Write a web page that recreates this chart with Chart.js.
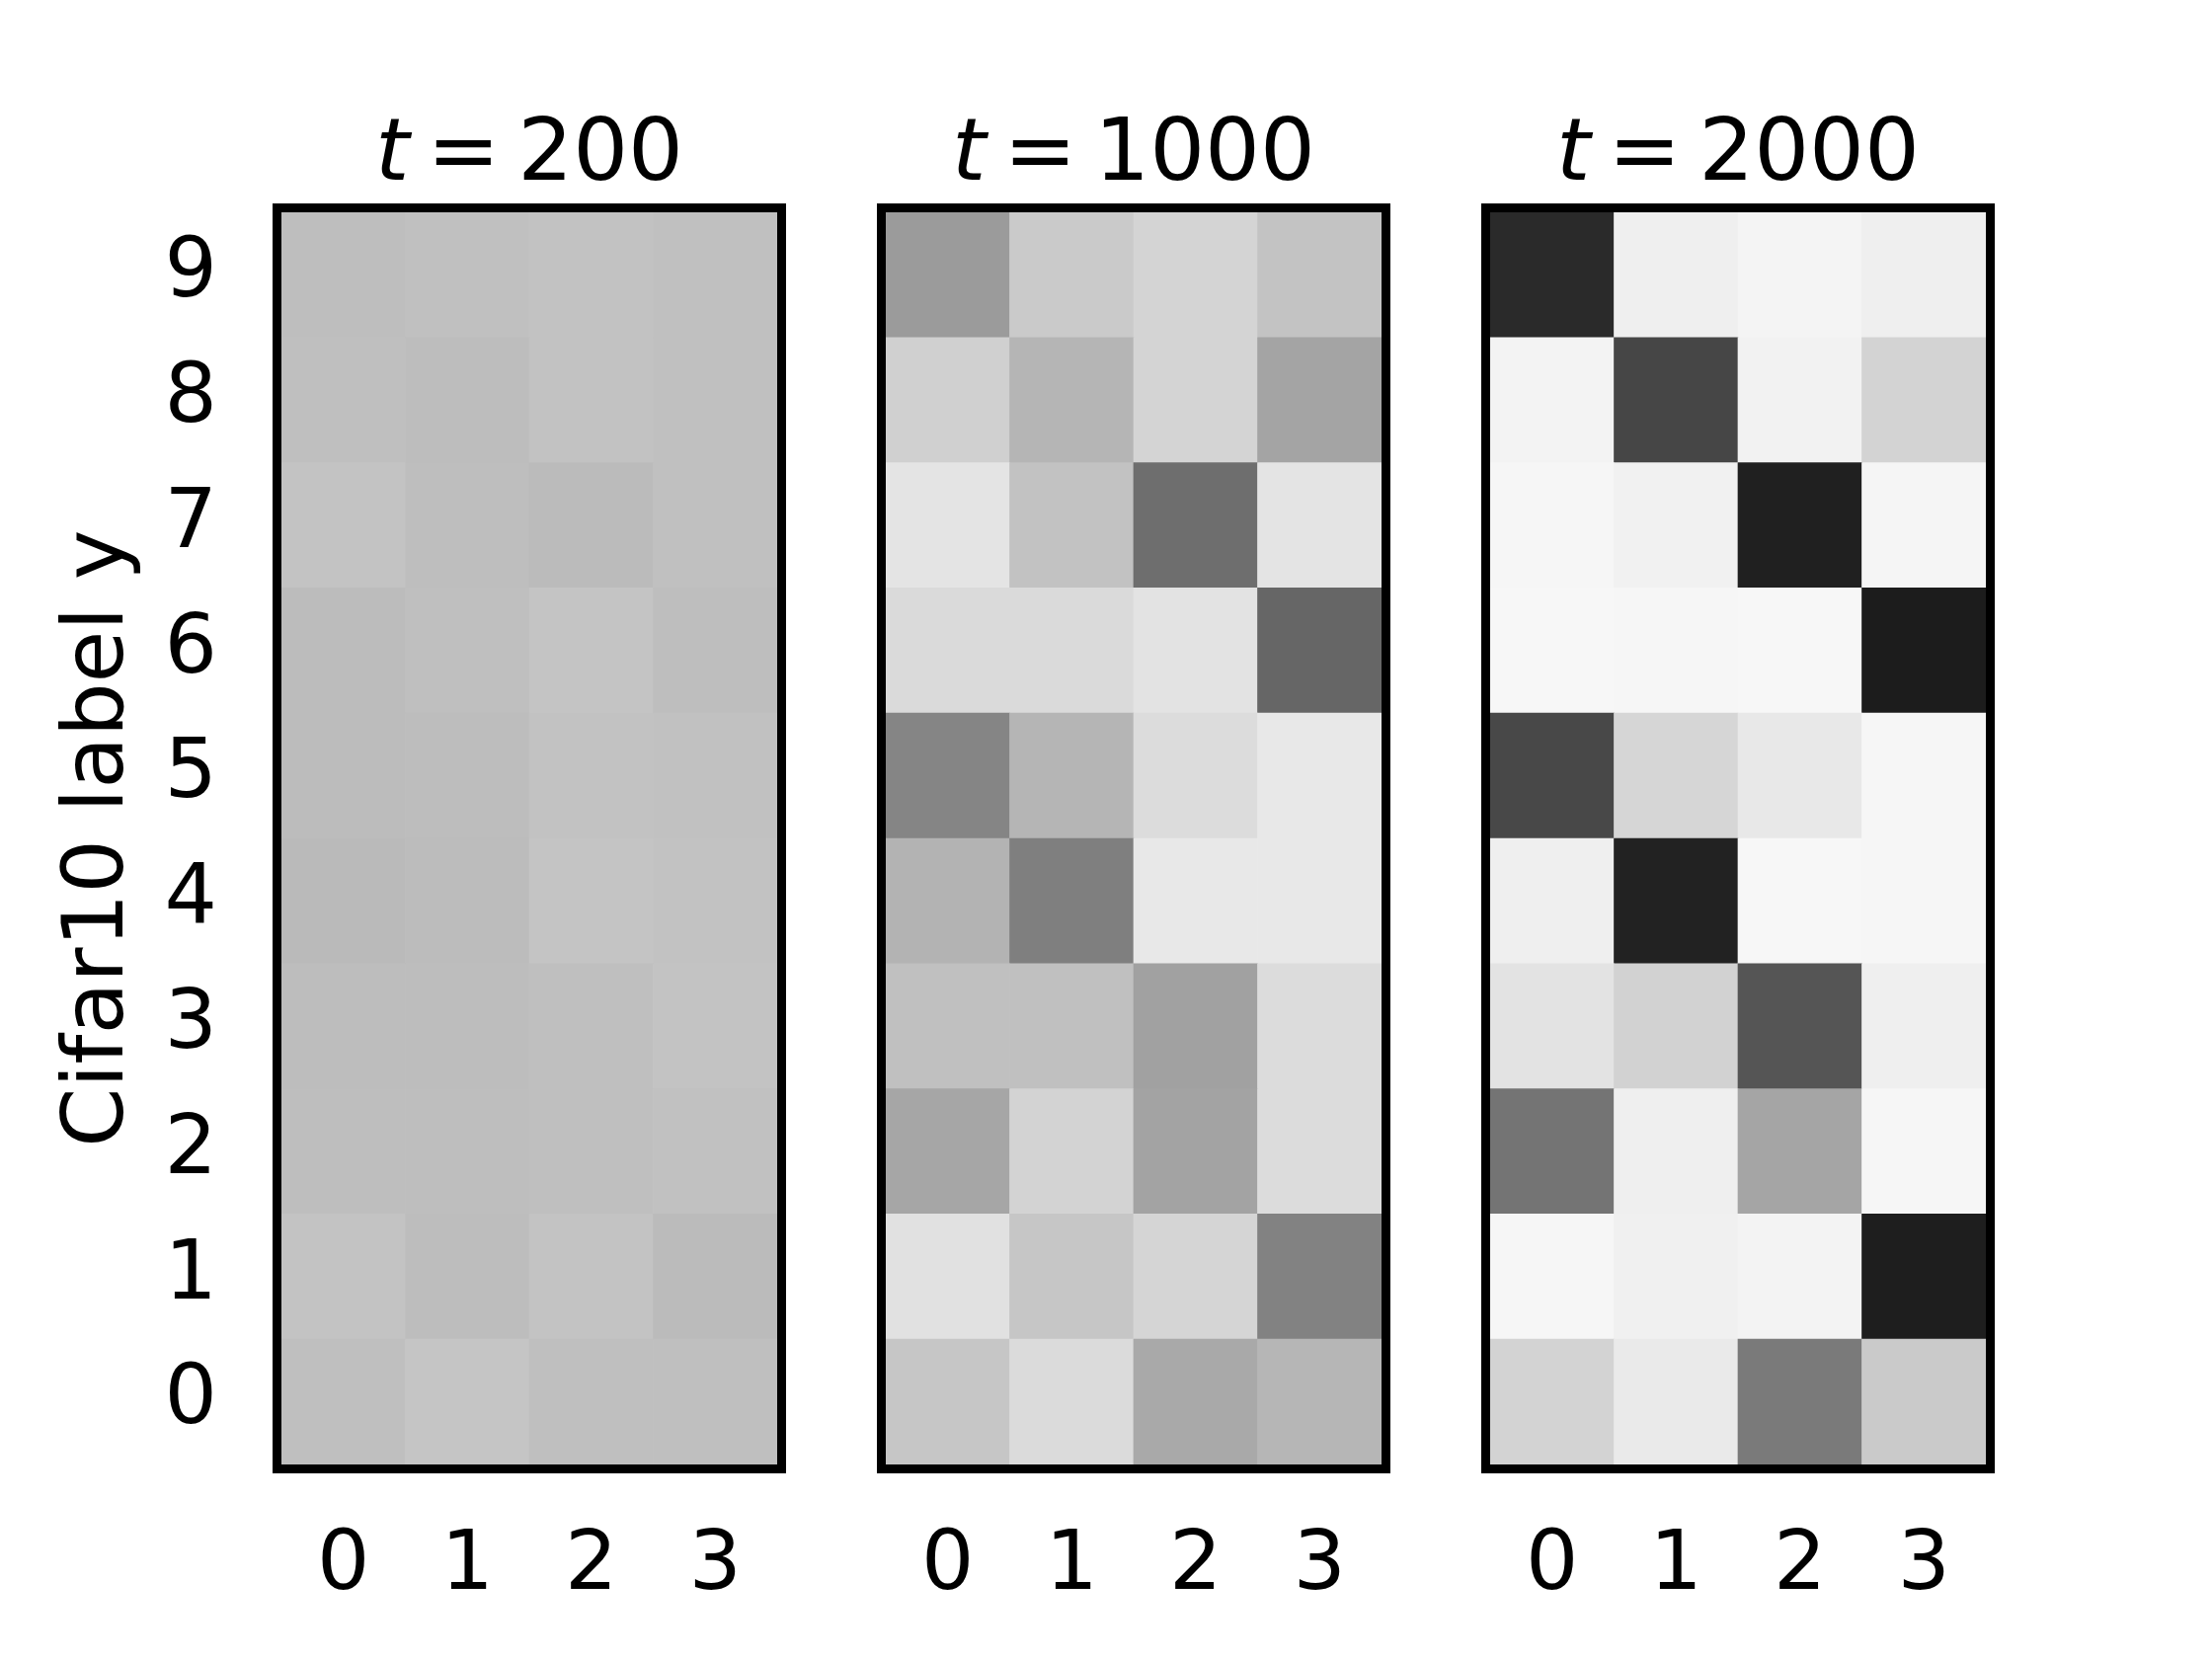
<!DOCTYPE html>
<html>
<head>
<meta charset="utf-8">
<script src="https://cdn.jsdelivr.net/npm/chart.js@4.4.1/dist/chart.umd.min.js"></script>
<style>
  html, body { margin: 0; padding: 0; background: #fff; }
  body { width: 2240px; height: 1680px; position: relative; overflow: hidden; }
  .panel { position: absolute; top: 0; width: 830px; height: 1680px; }
</style>
</head>
<body>
<div class="panel" style="left:0px"><canvas id="c200" width="830" height="1680"></canvas></div>
<div class="panel" style="left:612px"><canvas id="c1000" width="830" height="1680"></canvas></div>
<div class="panel" style="left:1224px"><canvas id="c2000" width="830" height="1680"></canvas></div>
<script>
// x categories and y labels
const columns = ['0', '1', '2', '3'];
const labelsY = [0, 1, 2, 3, 4, 5, 6, 7, 8, 9];
const steps = [200, 1000, 2000];

// cell darkness (0 = white, 1 = black), one row per label y = 0 .. 9, columns 0..3
const cellsT200 = [
    [0.251, 0.227, 0.251, 0.251],
    [0.235, 0.259, 0.235, 0.267],
    [0.255, 0.255, 0.251, 0.243],
    [0.259, 0.259, 0.251, 0.235],
    [0.271, 0.263, 0.231, 0.239],
    [0.263, 0.259, 0.239, 0.243],
    [0.263, 0.251, 0.231, 0.255],
    [0.235, 0.255, 0.267, 0.247],
    [0.251, 0.259, 0.239, 0.247],
    [0.255, 0.247, 0.239, 0.247]
];
const cellsT1000 = [
    [0.224, 0.141, 0.337, 0.286],
    [0.118, 0.224, 0.165, 0.490],
    [0.349, 0.173, 0.361, 0.137],
    [0.247, 0.247, 0.369, 0.137],
    [0.298, 0.502, 0.090, 0.090],
    [0.478, 0.290, 0.137, 0.090],
    [0.145, 0.145, 0.110, 0.600],
    [0.106, 0.239, 0.569, 0.106],
    [0.184, 0.290, 0.169, 0.357],
    [0.392, 0.208, 0.169, 0.235]
];
const cellsT2000 = [
    [0.173, 0.082, 0.522, 0.208],
    [0.035, 0.059, 0.047, 0.882],
    [0.545, 0.063, 0.353, 0.035],
    [0.110, 0.176, 0.667, 0.063],
    [0.063, 0.867, 0.031, 0.035],
    [0.718, 0.161, 0.090, 0.035],
    [0.031, 0.035, 0.031, 0.890],
    [0.035, 0.055, 0.875, 0.039],
    [0.047, 0.725, 0.051, 0.173],
    [0.835, 0.063, 0.043, 0.063]
];

const FONT = '"DejaVu Sans", sans-serif';

function greyOf(v) {
    const g = Math.round(255 * (1 - v));
    return `rgb(${g},${g},${g})`;
}

// Title "t = N" with italic t, plus the thick black frame round the plot
const stepTitle = {
    id: 'stepTitle',
    afterDraw(chart, args, opts) {
        const { ctx, chartArea } = chart;
        ctx.save();
        ctx.fillStyle = '#000';
        ctx.textAlign = 'left';
        ctx.textBaseline = 'alphabetic';
        const italic = 'italic 88px ' + FONT;
        const upright = '88px ' + FONT;
        const gap = 18;  // math spacing round "="
        const num = String(opts.step);
        ctx.font = italic;
        const wt = ctx.measureText('t').width;
        ctx.font = upright;
        const we = ctx.measureText('=').width;
        const wn = ctx.measureText(num).width;
        let x = (chartArea.left + chartArea.right) / 2 - (wt + we + wn + 2 * gap) / 2;
        const y = chartArea.top - 33;
        ctx.font = italic;
        ctx.fillText('t', x, y);
        x += wt + gap;
        ctx.font = upright;
        ctx.fillText('=', x, y);
        x += we + gap;
        ctx.fillText(num, x, y);

        ctx.lineWidth = 9;
        ctx.strokeStyle = '#000';
        ctx.strokeRect(chartArea.left - 4.5, chartArea.top - 4.5,
            chartArea.right - chartArea.left + 9, chartArea.bottom - chartArea.top + 9);
        ctx.restore();
    }
};

function makePanel(id, step, cells, first) {
    const datasets = labelsY.map((r, i) => ({
        label: 'y = ' + r,
        data: columns.map(() => [r - 0.5, r + 0.5]),
        backgroundColor: cells[i].map(greyOf),
        borderWidth: 0,
        barPercentage: 1,
        categoryPercentage: 1,
        grouped: false
    }));

    return new Chart(document.getElementById(id), {
        type: 'bar',
        data: { labels: columns, datasets: datasets },
        options: {
            responsive: false,
            animation: false,
            devicePixelRatio: 1,
            layout: { padding: { left: 0, right: 43, top: 215, bottom: 0 } },
            plugins: {
                legend: { display: false },
                tooltip: { enabled: false },
                stepTitle: { step: step }
            },
            scales: {
                x: {
                    grid: { display: false, drawTicks: false },
                    border: { display: false },
                    ticks: { color: '#000', font: { family: FONT, size: 84 }, padding: 54 },
                    afterFit: (s) => { s.height = 197; }
                },
                y: {
                    min: -0.5,
                    max: 9.5,
                    afterBuildTicks: (s) => { s.ticks = labelsY.map(v => ({ value: v })); },
                    grid: { display: false, drawTicks: false },
                    border: { display: false },
                    ticks: { display: first, color: '#000', font: { family: FONT, size: 84 }, padding: 65 },
                    title: {
                        display: first,
                        text: 'Cifar10 label y',
                        color: '#000',
                        font: { family: FONT, size: 86 },
                        padding: { top: 50, bottom: 0 }
                    },
                    afterFit: (s) => { s.width = 285; }
                }
            }
        },
        plugins: [stepTitle]
    });
}

const chart200 = makePanel('c200', steps[0], cellsT200, true);
const chart1000 = makePanel('c1000', steps[1], cellsT1000, false);
const chart2000 = makePanel('c2000', steps[2], cellsT2000, false);
</script>
</body>
</html>
